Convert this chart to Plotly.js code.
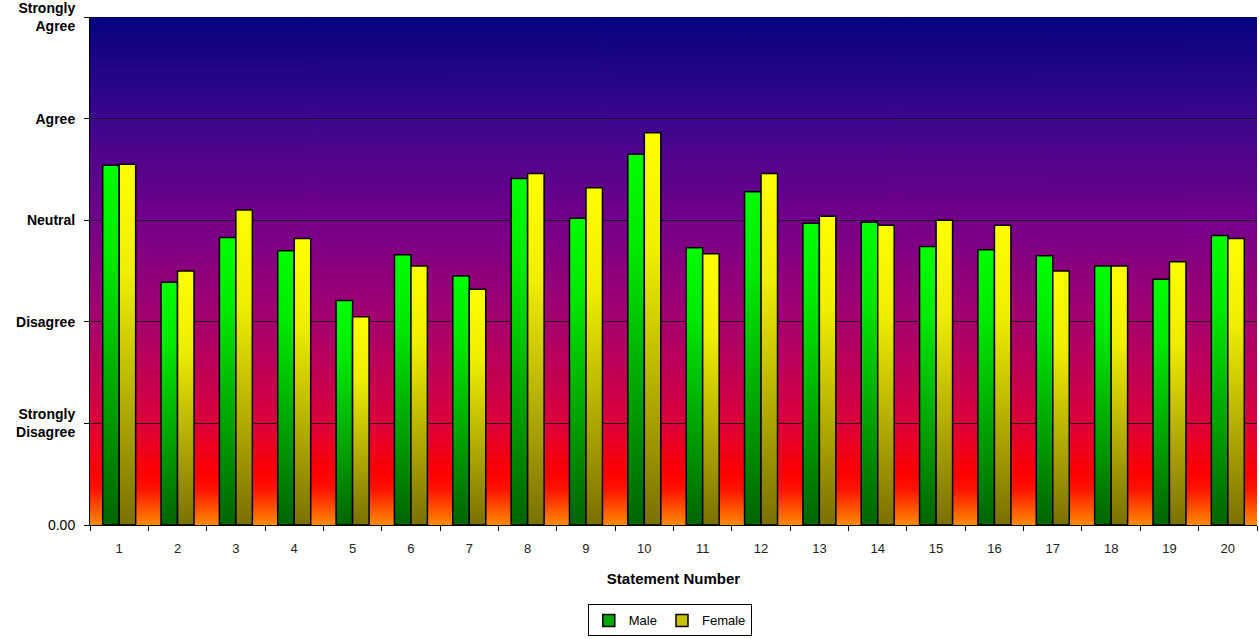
<!DOCTYPE html>
<html>
<head>
<meta charset="utf-8">
<script src="https://cdn.plot.ly/plotly-3.0.1.min.js"></script>
<style>
  html, body { margin: 0; padding: 0; background: #fff; }
  #chart { width: 1259px; height: 639px; }
</style>
</head>
<body>
<div id="chart"></div>
<script>
// Mean response per statement (1 = Strongly Disagree ... 5 = Strongly Agree)
const statements = ['1','2','3','4','5','6','7','8','9','10','11','12','13','14','15','16','17','18','19','20'];
const male   = [3.54, 2.39, 2.83, 2.70, 2.21, 2.66, 2.45, 3.41, 3.02, 3.65, 2.73, 3.28, 2.97, 2.98, 2.74, 2.71, 2.65, 2.55, 2.42, 2.85];
const female = [3.55, 2.50, 3.10, 2.82, 2.05, 2.55, 2.32, 3.46, 3.32, 3.86, 2.67, 3.46, 3.04, 2.95, 3.00, 2.95, 2.50, 2.55, 2.59, 2.82];

const scaleVals  = [0, 1, 2, 3, 4, 5];
const scaleTexts = ['0.00', '<b>Strongly<br>Disagree</b>', '<b>Disagree</b>', '<b>Neutral</b>', '<b>Agree</b>', '<b>Strongly<br>Agree</b>'];

const FONT = '"Liberation Sans", Arial, sans-serif';

// Vertical background wash for the plot area: navy at the top, fading through purple and red to orange.
function backgroundWash() {
  const c = document.createElement('canvas');
  c.width = 8; c.height = 512;
  const ctx = c.getContext('2d');
  const g = ctx.createLinearGradient(0, 0, 0, c.height);
  g.addColorStop(0.00, '#04047e');
  g.addColorStop(0.20, '#3c068e');
  g.addColorStop(0.40, '#74008a');
  g.addColorStop(0.60, '#a6006e');
  g.addColorStop(0.80, '#dc003a');
  g.addColorStop(0.90, '#ff0000');
  g.addColorStop(0.93, '#ff1400');
  g.addColorStop(1.00, '#ff8c00');
  ctx.fillStyle = g;
  ctx.fillRect(0, 0, c.width, c.height);
  return c.toDataURL('image/png');
}

const traces = [
  {
    type: 'bar', name: 'Male', x: statements, y: male,
    marker: { color: '#00a800', line: { color: '#000', width: 1.5 } },
    hoverinfo: 'x+y'
  },
  {
    type: 'bar', name: 'Female', x: statements, y: female,
    marker: { color: '#c8c000', line: { color: '#000', width: 1.5 } },
    hoverinfo: 'x+y'
  }
];

const layout = {
  width: 1259, height: 639,
  margin: { l: 90, r: 2, t: 17, b: 114 },
  paper_bgcolor: '#ffffff',
  plot_bgcolor: 'rgba(0,0,0,0)',
  font: { family: FONT, size: 12, color: '#000' },
  barmode: 'group',
  bargap: 0.435,
  bargroupgap: 0,
  showlegend: true,
  legend: {
    orientation: 'h',
    xref: 'container', yref: 'container',
    x: 0.532, xanchor: 'center',
    y: 0.004, yanchor: 'bottom',
    bgcolor: '#fff', bordercolor: '#000', borderwidth: 1,
    font: { family: FONT, size: 13, color: '#000' },
    itemwidth: 30, tracegroupgap: 0
  },
  xaxis: {
    type: 'category',
    tickson: 'boundaries',
    ticks: 'outside', ticklen: 5, tickcolor: '#000', tickwidth: 1,
    ticklabelstandoff: 11,
    showgrid: false, zeroline: false,
    showline: true, linecolor: '#000', linewidth: 1,
    tickfont: { family: FONT, size: 13, color: '#222' },
    title: { text: '<b>Statement Number</b>', font: { family: FONT, size: 15, color: '#000' }, standoff: 18 }
  },
  yaxis: {
    range: [0, 5],
    tickmode: 'array', tickvals: scaleVals, ticktext: scaleTexts,
    ticks: 'outside', ticklen: 5, tickcolor: '#000', tickwidth: 1,
    ticklabelstandoff: 6,
    ticklabeloverflow: 'allow',
    showgrid: true, gridcolor: 'rgba(20,0,20,0.85)', gridwidth: 1,
    zeroline: false,
    showline: true, linecolor: '#000', linewidth: 1,
    tickfont: { family: FONT, size: 14, color: '#000' },
    fixedrange: true
  },
  images: [{
    source: backgroundWash(),
    xref: 'paper', yref: 'paper',
    x: 0, y: 1, sizex: 1, sizey: 1,
    xanchor: 'left', yanchor: 'top',
    sizing: 'stretch', layer: 'below'
  }]
};

// Vertical gradient fills for each series' bars (bright at the top, darker at the base).
const barFills = [
  { id: 'fill-male',   stops: [[0, '#00ff00'], [0.25, '#00ea00'], [1, '#006400']] },
  { id: 'fill-female', stops: [[0, '#ffff00'], [0.30, '#f0ee00'], [1, '#7a7000']] }
];

function paintBars(gd) {
  const NS = 'http://www.w3.org/2000/svg';
  const svg = gd.querySelector('svg.main-svg');
  if (!svg) return;
  let defs = svg.querySelector('#bar-fill-defs');
  if (!defs) {
    defs = document.createElementNS(NS, 'defs');
    defs.setAttribute('id', 'bar-fill-defs');
    barFills.forEach(f => {
      const lg = document.createElementNS(NS, 'linearGradient');
      lg.setAttribute('id', f.id);
      lg.setAttribute('x1', '0'); lg.setAttribute('y1', '0');
      lg.setAttribute('x2', '0'); lg.setAttribute('y2', '1');
      f.stops.forEach(([o, c]) => {
        const s = document.createElementNS(NS, 'stop');
        s.setAttribute('offset', o);
        s.setAttribute('stop-color', c);
        lg.appendChild(s);
      });
      defs.appendChild(lg);
    });
    svg.insertBefore(defs, svg.firstChild);
  }
  gd.querySelectorAll('.barlayer .trace').forEach((t, i) => {
    const f = barFills[i];
    if (!f) return;
    t.querySelectorAll('.point path').forEach(p => { p.style.fill = 'url(#' + f.id + ')'; });
  });
}

const gd = document.getElementById('chart');
Plotly.newPlot(gd, traces, layout, { displayModeBar: false, staticPlot: true }).then(() => {
  paintBars(gd);
  gd.on('plotly_afterplot', () => paintBars(gd));
});
</script>
</body>
</html>
